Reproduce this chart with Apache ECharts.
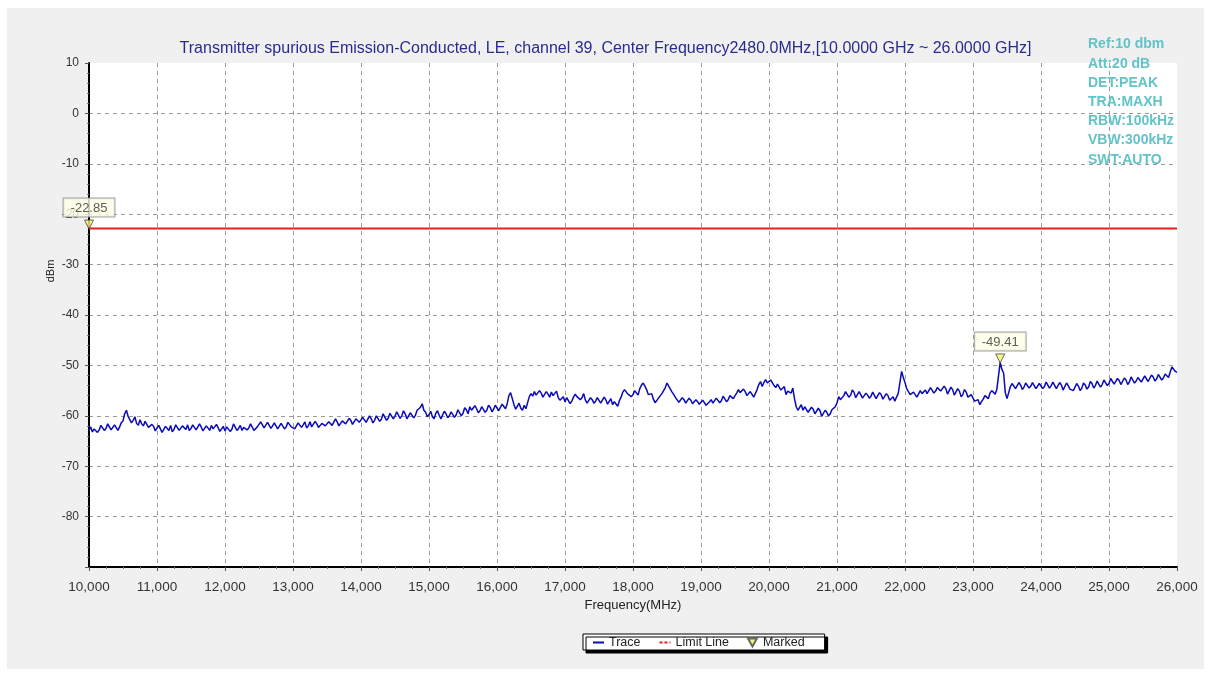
<!DOCTYPE html>
<html>
<head>
<meta charset="utf-8">
<script src="https://cdn.jsdelivr.net/npm/echarts@6/dist/echarts.min.js"></script>
<style>
html,body{margin:0;padding:0;background:#fff;}
#chart{width:1211px;height:677px;}
</style>
</head>
<body>
<div id="chart"></div>
<script>
// ---- data ----
const freqStart = 10000;   // MHz
const freqStep = 50;       // MHz between the main trace samples
// trace samples at 10000, 10050, ... 26000 MHz (dBm)
const traceValues = [
-62.9,-63.2,-62.4,-62.8,-62.0,-62.5,-61.9,-62.3,-61.6,-62.2,
-61.0,-58.9,-60.3,-60.9,-61.5,-60.8,-62.0,-61.4,-62.6,-62.1,
-62.8,-62.2,-63.0,-62.4,-61.9,-62.7,-62.1,-63.1,-62.3,-61.8,
-62.5,-61.7,-62.9,-62.2,-63.2,-62.4,-61.9,-62.8,-62.0,-62.6,
-63.0,-62.3,-62.7,-61.8,-62.5,-62.9,-62.1,-62.4,-61.7,-62.6,
-62.0,-61.5,-62.3,-61.1,-62.0,-61.6,-62.4,-61.8,-62.2,-61.4,
-61.9,-62.3,-61.5,-61.8,-62.4,-61.2,-61.9,-61.6,-62.1,-61.3,
-61.7,-61.0,-61.6,-61.2,-61.9,-60.8,-61.4,-60.9,-61.5,-60.5,
-61.0,-60.4,-61.2,-60.6,-60.9,-60.2,-60.7,-59.9,-60.5,-59.7,
-60.1,-59.4,-60.0,-59.6,-60.3,-59.5,-59.9,-59.2,-57.6,-59.3,
-59.8,-60.2,-59.5,-59.9,-60.3,-59.6,-60.0,-59.4,-59.8,-59.1,
-59.5,-58.8,-58.2,-59.1,-58.6,-59.0,-58.4,-58.9,-58.3,-58.7,
-58.2,-58.8,-58.0,-57.6,-55.4,-57.8,-58.1,-58.5,-57.9,-58.3,
-55.6,-55.2,-56.0,-55.5,-56.1,-55.7,-55.3,-55.9,-56.4,-57.0,
-57.2,-56.6,-57.1,-55.7,-55.9,-56.4,-56.9,-57.3,-56.8,-57.1,
-56.7,-57.2,-56.8,-57.4,-57.8,-57.5,-57.0,-55.3,-55.0,-55.6,
-55.8,-55.2,-54.6,-53.5,-54.8,-56.0,-56.7,-57.2,-56.4,-55.5,
-53.5,-54.4,-55.8,-56.6,-57.1,-56.8,-57.3,-56.9,-57.6,-57.2,
-57.5,-57.0,-57.8,-56.8,-57.2,-56.5,-57.0,-56.3,-56.8,-56.1,
-56.0,-54.8,-55.6,-55.2,-56.0,-55.4,-56.4,-53.8,-54.2,-52.8,
-53.6,-53.2,-54.4,-54.0,-55.0,-55.8,-54.9,-54.5,-58.2,-58.6,
-58.9,-58.4,-59.1,-58.7,-59.4,-59.0,-59.8,-59.3,-59.6,-58.9,
-57.4,-56.8,-56.0,-55.5,-55.9,-55.3,-56.2,-55.8,-56.4,-55.9,
-56.1,-55.6,-56.3,-55.8,-56.5,-56.0,-56.8,-57.1,-55.6,-51.2,
-53.4,-55.2,-56.0,-55.4,-56.1,-55.6,-54.9,-55.3,-54.6,-55.1,
-54.3,-55.0,-54.6,-55.4,-54.8,-55.6,-55.1,-55.8,-55.3,-56.0,
-56.5,-57.3,-57.8,-56.7,-56.0,-55.5,-55.2,-54.8,-49.4,-51.5,
-56.6,-54.2,-53.8,-54.5,-53.9,-54.3,-53.6,-54.1,-53.7,-54.4,
-53.8,-54.2,-53.5,-54.0,-53.6,-54.3,-53.9,-54.6,-54.0,-54.4,
-54.8,-54.1,-54.5,-53.9,-54.3,-53.6,-54.0,-53.4,-53.8,-53.2,
-53.6,-52.8,-53.4,-53.0,-53.5,-52.9,-53.3,-52.6,-53.1,-52.7,
-53.0,-52.4,-52.9,-52.3,-52.7,-52.1,-52.5,-51.8,-51.3,-50.6,
-51.4
];
// trace samples in between, at 10025, 10075, ... 25975 MHz (dBm)
const traceMidValues = [
-62.2,-62.6,-63.3,-61.9,-62.9,-61.6,-62.8,-61.8,-62.9,-61.4,
-59.6,-60.1,-61.4,-60.2,-61.9,-61.6,-61.1,-62.3,-61.7,-63.0,
-61.9,-63.3,-62.1,-62.9,-63.2,-61.8,-62.9,-62.0,-62.7,-62.9,
-61.8,-62.8,-61.6,-63.0,-62.0,-62.9,-62.6,-61.7,-63.1,-62.1,
-62.2,-63.1,-61.6,-62.9,-61.9,-62.3,-62.8,-61.6,-62.9,-62.2,
-61.2,-62.4,-61.3,-62.5,-61.4,-62.6,-61.5,-62.6,-61.3,-62.2,
-62.6,-61.4,-62.3,-61.2,-62.0,-62.2,-61.1,-62.3,-61.5,-62.0,
-61.2,-61.9,-60.6,-62.0,-61.0,-61.6,-60.5,-61.7,-60.6,-61.3,
-60.3,-61.3,-60.0,-61.4,-60.0,-61.1,-59.6,-60.9,-59.5,-60.6,
-59.2,-60.5,-59.0,-60.6,-59.4,-60.4,-58.9,-58.3,-58.9,-60.2,
-59.1,-60.6,-59.0,-60.6,-59.1,-60.4,-59.2,-60.3,-58.8,-60.0,
-58.4,-59.6,-58.9,-58.0,-59.4,-58.2,-59.3,-57.9,-59.2,-57.9,
-59.0,-57.7,-58.6,-56.0,-56.6,-58.7,-57.5,-58.9,-58.6,-56.2,
-56.1,-55.9,-55.0,-56.3,-55.2,-56.3,-56.0,-55.1,-56.9,-56.2,
-56.4,-57.6,-56.3,-56.2,-56.8,-55.6,-57.5,-56.4,-57.5,-56.4,
-57.5,-56.3,-57.7,-56.6,-57.2,-58.1,-56.3,-54.8,-55.7,-56.2,
-55.0,-55.9,-53.9,-54.1,-55.8,-55.6,-57.4,-56.5,-55.6,-54.4,
-54.1,-55.3,-56.4,-57.3,-56.4,-57.5,-56.5,-57.6,-56.8,-57.7,
-56.9,-57.9,-57.2,-57.5,-56.5,-57.4,-56.1,-57.2,-56.0,-56.6,
-55.5,-55.4,-54.7,-56.0,-55.2,-56.3,-54.8,-53.2,-53.4,-53.5,
-52.9,-54.0,-53.7,-54.9,-54.2,-55.1,-55.5,-56.6,-58.9,-57.8,
-58.2,-59.3,-58.3,-59.6,-58.5,-60.1,-58.9,-60.0,-58.8,-58.2,
-56.2,-56.5,-55.2,-56.3,-54.9,-56.4,-55.2,-56.5,-55.5,-56.5,
-55.3,-56.6,-55.4,-56.7,-55.6,-56.9,-56.2,-56.3,-53.4,-52.4,
-54.6,-55.8,-55.3,-56.3,-55.0,-55.9,-55.6,-54.4,-55.5,-54.4,
-55.1,-54.1,-55.7,-54.3,-55.9,-54.6,-56.2,-54.8,-56.3,-55.8,
-57.1,-56.8,-57.2,-56.0,-56.6,-55.0,-55.7,-54.5,-50.8,-55.4,
-55.4,-53.6,-54.6,-53.4,-54.8,-53.5,-54.5,-53.4,-54.6,-53.6,
-54.6,-53.3,-54.5,-53.3,-54.6,-53.4,-54.9,-53.5,-54.7,-55.0,
-53.6,-55.0,-53.5,-54.7,-53.2,-54.5,-53.1,-54.3,-52.9,-54.0,
-52.6,-53.7,-52.6,-53.8,-52.5,-53.8,-52.3,-53.5,-52.4,-53.3,
-52.1,-53.2,-51.9,-53.1,-51.8,-52.9,-51.7,-52.4,-50.3,-51.2
];
const limitLevel = -22.85;          // dBm
const limitRange = [10000, 26000];  // MHz
const markerFreqs = [10000, 23400];
const markerValues = [-22.85, -49.41];
const infoLines = ['Ref:10 dbm','Att:20 dB','DET:PEAK','TRA:MAXH','RBW:100kHz','VBW:300kHz','SWT:AUTO'];
const titleText = 'Transmitter spurious Emission-Conducted, LE, channel 39, Center Frequency2480.0MHz,[10.0000 GHz ~ 26.0000 GHz]';

// ---- build ----
const tracePairs = [];
traceValues.forEach((v, i) => {
  tracePairs.push([freqStart + i * freqStep, v]);
  if (i < traceMidValues.length) tracePairs.push([freqStart + i * freqStep + freqStep / 2, traceMidValues[i]]);
});
const limitPairs = limitRange.map(f => [f, limitLevel]);
const markerPairs = markerFreqs.map((f, i) => [f, markerValues[i]]);
const FONT = "'Liberation Sans', Arial, sans-serif";

const chart = echarts.init(document.getElementById('chart'), null, {renderer: 'canvas'});
chart.setOption({
  animation: false,
  backgroundColor: '#ffffff',
  graphic: [{
    type: 'rect', z: -100, silent: true,
    shape: {x: 7, y: 8, width: 1197, height: 661},
    style: {fill: '#f0f0f0'}
  }],
  title: [{
    text: titleText,
    left: 'center', top: 36,
    textStyle: {fontFamily: FONT, fontSize: 16, fontWeight: 'normal', color: '#2b2b8e'}
  }, {
    text: infoLines.join('\n'),
    left: 1083, top: 30,
    textStyle: {fontFamily: FONT, fontSize: 14, fontWeight: 'bold', color: '#62c3c8', lineHeight: 19.2}
  }],
  grid: {left: 89, right: 34, top: 63, bottom: 110, show: true, backgroundColor: '#ffffff', borderWidth: 0},
  legend: {
    left: 583, top: 634,
    data: [
      {name: 'Trace', itemStyle: {opacity: 0}},
      {name: 'Limit Line', itemStyle: {opacity: 0}, lineStyle: {type: [3, 2]}},
      {name: 'Marked', icon: 'path://M0,0L10,0L5,9Z'}
    ],
    itemWidth: 11, itemHeight: 8, itemGap: 18,
    padding: [2, 20, 1, 9],
    backgroundColor: '#ffffff', borderColor: '#000', borderWidth: 1,
    shadowColor: 'rgba(0,0,0,1)', shadowOffsetX: 3, shadowOffsetY: 3, shadowBlur: 0.1,
    textStyle: {fontFamily: FONT, fontSize: 12.5, color: '#222'}
  },
  xAxis: {
    type: 'value', min: 10000, max: 26000, interval: 1000,
    name: 'Frequency(MHz)', nameLocation: 'middle', nameGap: 32,
    nameTextStyle: {fontFamily: FONT, fontSize: 13, color: '#222'},
    axisLine: {show: true, onZero: false, lineStyle: {color: '#000', width: 2}},
    axisTick: {show: true, length: 4, lineStyle: {color: '#555'}},
    minorTick: {show: true, splitNumber: 4, length: 2, lineStyle: {color: '#777'}},
    axisLabel: {fontFamily: FONT, fontSize: 13.5, color: '#333', margin: 13,
      formatter: v => String(v).replace(/\B(?=(\d{3})+(?!\d))/g, ',')},
    splitLine: {show: true, showMinLine: false, showMaxLine: false,
      lineStyle: {color: '#9a9a9a', type: [4, 4], width: 1}}
  },
  yAxis: {
    type: 'value', min: -90, max: 10, interval: 10,
    name: 'dBm', nameLocation: 'middle', nameGap: 33, nameMoveOverlap: false,
    nameTextStyle: {fontFamily: FONT, fontSize: 11, color: '#222', padding: [0, 0, 0, 88]},
    axisLine: {show: true, onZero: false, lineStyle: {color: '#000', width: 2}},
    axisTick: {show: true, length: 4, lineStyle: {color: '#555'}},
    minorTick: {show: true, splitNumber: 5, length: 2, lineStyle: {color: '#777'}},
    axisLabel: {fontFamily: FONT, fontSize: 12, color: '#333', margin: 10,
      formatter: v => (v === -90 ? '' : String(v))},
    splitLine: {show: true, showMinLine: false, showMaxLine: false,
      lineStyle: {color: '#9a9a9a', type: [4, 4], width: 1}}
  },
  series: [{
    name: 'Trace', type: 'line', data: tracePairs,
    symbol: 'none', z: 3,
    color: '#0a0ab8',
    lineStyle: {color: '#0a0ab8', width: 1.5}
  }, {
    name: 'Limit Line', type: 'line', data: limitPairs,
    symbol: 'none', z: 4,
    color: '#e3201b',
    lineStyle: {color: '#e3201b', width: 2}
  }, {
    name: 'Marked', type: 'scatter', data: markerPairs,
    symbol: 'triangle', symbolRotate: 180, symbolSize: [9, 9], symbolOffset: [0, -4],
    z: 5, zlevel: 1, clip: false,
    itemStyle: {color: '#f4f46a', borderColor: '#444', borderWidth: 1},
    label: {
      show: true, position: 'top', distance: 3,
      formatter: p => p.value[1].toFixed(2),
      fontFamily: FONT, fontSize: 13, color: '#333',
      backgroundColor: '#ffffe6', borderColor: '#8a8a8a', borderWidth: 1,
      padding: [3, 7, 2, 7]
    }
  }]
});
</script>
</body>
</html>
